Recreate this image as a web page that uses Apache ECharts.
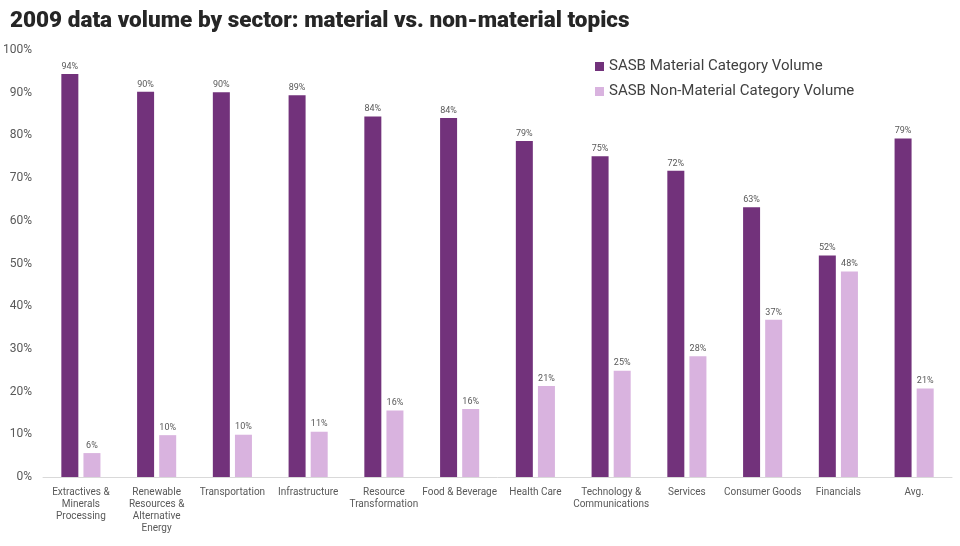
<!DOCTYPE html>
<html>
<head>
<meta charset="utf-8">
<script src="https://cdn.jsdelivr.net/npm/echarts@6/dist/echarts.min.js"></script>
<style>
  html, body { margin: 0; padding: 0; background: #fff; }
  #chart { width: 960px; height: 546px; }
</style>
</head>
<body>
<div id="chart"></div>
<script>
// sectors (x axis)
var sectors = [
  'Extractives &\nMinerals\nProcessing',
  'Renewable\nResources &\nAlternative\nEnergy',
  'Transportation',
  'Infrastructure',
  'Resource\nTransformation',
  'Food & Beverage',
  'Health Care',
  'Technology &\nCommunications',
  'Services',
  'Consumer Goods',
  'Financials',
  'Avg.'
];
// share of data volume, percent
var materialVol    = [94.4, 90.2, 90.1, 89.4, 84.4, 84.1, 78.7, 75.1, 71.7, 63.2, 51.9, 79.3];
var nonMaterialVol = [5.6, 9.8, 9.9, 10.6, 15.6, 15.9, 21.3, 24.9, 28.3, 36.8, 48.1, 20.7];
var seriesNames = ['SASB Material Category Volume', 'SASB Non-Material Category Volume'];

var myChart = echarts.init(document.getElementById('chart'));

var lbl = {
  show: true,
  position: 'top',
  distance: 3,
  fontSize: 9,
  color: '#595959',
  fontFamily: 'Roboto',
  formatter: function (p) { return Math.round(p.value) + '%'; }
};

var option = {
  backgroundColor: '#fff',
  animation: false,
  title: {
    text: '2009 data volume by sector: material vs. non-material topics',
    left: 5,
    top: 5,
    textStyle: { fontFamily: 'Roboto', fontWeight: 900, fontSize: 22.5, color: '#262626' }
  },
  legend: {
    orient: 'vertical',
    left: 590,
    top: 54,
    itemWidth: 9,
    itemHeight: 9,
    itemGap: 10,
    icon: 'rect',
    textStyle: { fontFamily: 'Roboto', fontSize: 15, color: '#404040' },
    data: seriesNames
  },
  grid: { left: 43, right: 8, top: 50, bottom: 69, containLabel: false },
  xAxis: {
    type: 'category',
    data: sectors,
    axisLine: { lineStyle: { color: '#d9d9d9' } },
    axisTick: { show: false },
    axisLabel: {
      interval: 0,
      fontFamily: 'Roboto',
      fontSize: 10,
      color: '#595959',
      lineHeight: 12,
      margin: 9
    }
  },
  yAxis: {
    type: 'value',
    min: 0,
    max: 100,
    interval: 10,
    splitLine: { show: false },
    axisLine: { show: false },
    axisTick: { show: false },
    axisLabel: {
      formatter: '{value}%',
      fontFamily: 'Roboto',
      fontSize: 12,
      color: '#595959',
      margin: 11
    }
  },
  series: [
    {
      name: seriesNames[0],
      type: 'bar',
      data: materialVol,
      barWidth: 17,
      barGap: '30%',
      itemStyle: { color: '#72327b' },
      label: lbl
    },
    {
      name: seriesNames[1],
      type: 'bar',
      data: nonMaterialVol,
      barWidth: 17,
      itemStyle: { color: '#d9b3df' },
      label: lbl
    }
  ]
};

myChart.setOption(option);
</script>
</body>
</html>
